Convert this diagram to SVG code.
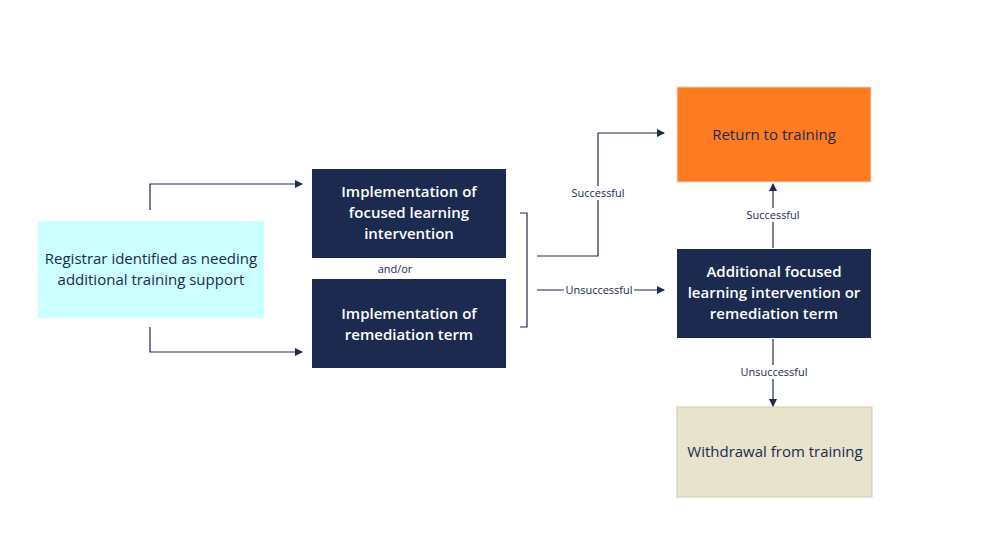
<svg xmlns="http://www.w3.org/2000/svg" width="990" height="547" viewBox="0 0 990 547">
<style>
.n{fill:#1b2a4e}
.t{font-family:"Open Sans","Liberation Sans",sans-serif;font-size:15px;text-anchor:middle}
.w{fill:#fff;font-weight:600}
.d{fill:#1b2a4e}
.l{font-family:"Open Sans","Liberation Sans",sans-serif;font-size:11px;text-anchor:middle;fill:#1b2a4e}
.c{fill:none;stroke:#1b2a4e;stroke-width:1.2}
</style>
<defs><marker id="a" markerWidth="8" markerHeight="8" refX="7" refY="4" orient="auto" markerUnits="userSpaceOnUse"><path d="M0,0L8,4L0,8z" fill="#1b2a4e"/></marker></defs>
<rect width="990" height="547" fill="#fff"/>
<g id="registrar"><rect x="38" y="221" width="226" height="97" fill="#ccffff"/><text class="t d" x="151" y="264">Registrar identified as needing</text><text class="t d" x="151" y="285">additional training support</text></g>
<g id="focused"><rect class="n" x="312" y="169" width="194" height="89"/><text class="t w" x="409" y="197">Implementation of</text><text class="t w" x="409" y="218">focused learning</text><text class="t w" x="409" y="239">intervention</text></g>
<text class="l" x="395" y="273">and/or</text>
<g id="remediation"><rect class="n" x="312" y="279" width="194" height="89"/><text class="t w" x="409" y="319">Implementation of</text><text class="t w" x="409" y="340">remediation term</text></g>
<g id="return"><rect x="677" y="87" width="194" height="95" fill="#ff7b22" stroke="#d9d9d9"/><text class="t d" x="774" y="140">Return to training</text></g>
<g id="additional"><rect class="n" x="677" y="249" width="194" height="89"/><text class="t w" x="774" y="277">Additional focused</text><text class="t w" x="774" y="298">learning intervention or</text><text class="t w" x="774" y="319">remediation term</text></g>
<g id="withdrawal"><rect x="677" y="407" width="195" height="90" fill="#e8e3cc" stroke="#cfcab3"/><text class="t d" x="775" y="457">Withdrawal from training</text></g>
<g id="connectors">
<path class="c" d="M150,210V184H302" marker-end="url(#a)"/>
<path class="c" d="M150,327V352H302" marker-end="url(#a)"/>
<path class="c" d="M520,213H527V327H520"/>
<path class="c" d="M537,256H598V133H664" marker-end="url(#a)"/>
<path class="c" d="M537,290H664" marker-end="url(#a)"/>
<path class="c" d="M773,248V184" marker-end="url(#a)"/>
<path class="c" d="M773,339V406" marker-end="url(#a)"/>
<rect x="566" y="186" width="64" height="14" fill="#fff"/><text class="l" x="598" y="197">Successful</text>
<rect x="564" y="283" width="70" height="14" fill="#fff"/><text class="l" x="599" y="294">Unsuccessful</text>
<rect x="741" y="208" width="64" height="14" fill="#fff"/><text class="l" x="773" y="219">Successful</text>
<rect x="738" y="365" width="72" height="14" fill="#fff"/><text class="l" x="774" y="376">Unsuccessful</text>
</g>
</svg>
